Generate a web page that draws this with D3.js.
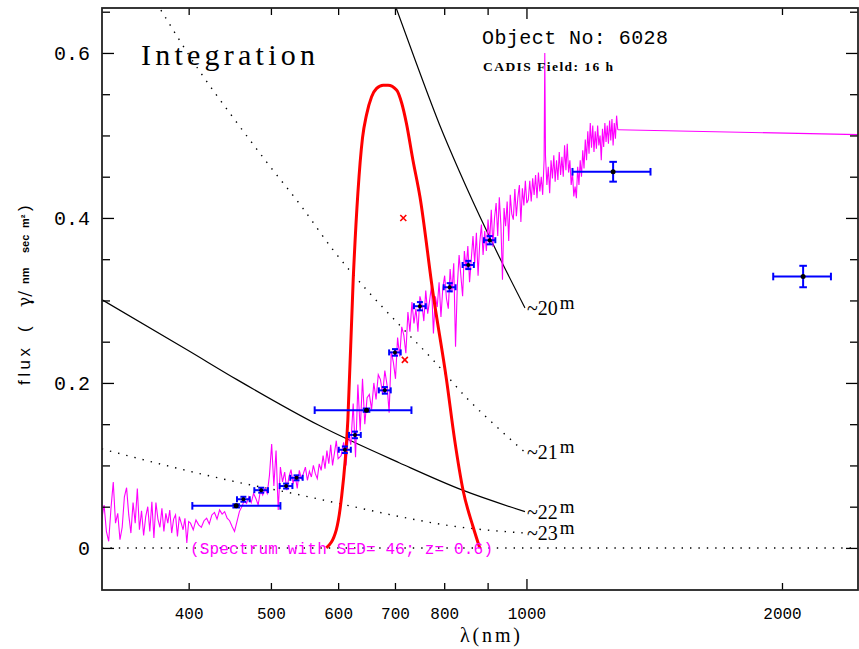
<!DOCTYPE html>
<html>
<head>
<meta charset="utf-8">
<script src="https://cdn.jsdelivr.net/npm/d3@7"></script>
<style>
  body { margin: 0; background: #fff; }
  svg { display: block; }
</style>
</head>
<body>
<div id="chart"></div>
<script>
// Axis ticks
const xTicks = [400, 500, 600, 700, 800, 900, 1000, 2000];
const xTickLabels = ['400', '500', '600', '700', '800', '', '1000', '2000'];
const yMajor = [0, 0.2, 0.4, 0.6];
const yTickLabels = ['0', '0.2', '0.4', '0.6'];
const yMinor = [0.05, 0.1, 0.15, 0.25, 0.3, 0.35, 0.45, 0.5, 0.55, 0.65];

// Spectrum (wavelength grid start/step + flux)
const blueStart = 316, blueStep = 2;
const blueFlux = [0.035,0.052,0.020,0.008,0.048,0.080,0.030,0.042,0.010,0.025,0.062,0.073,0.040,0.018,0.055,
  0.030,0.072,0.022,0.045,0.015,0.038,0.050,0.020,0.056,0.012,0.055,0.035,0.025,0.048,0.020,0.042,0.030,
  0.046,0.018,0.035,0.040,0.014,0.038,0.030,0.022,0.036,0.006,0.032];
const greenStart = 402, greenStep = 3;
const greenFlux = [0.030,0.022,0.034,0.028,0.025,0.033,0.036,0.029,0.040,0.043,0.035,0.046,0.041,0.044,0.036,
  0.033,0.026,0.020,0.032,0.044,0.050,0.057,0.054,0.062,0.055,0.066,0.060,0.052,0.070,0.064,0.072,0.066,
  0.088,0.126,0.075,0.118,0.046,0.098,0.080,0.092,0.070,0.086,0.095,0.078,0.088,0.072,0.094,0.084,0.090,
  0.098,0.082,0.093,0.086,0.100,0.090,0.084,0.102,0.094,0.112,0.096,0.118,0.102,0.125,0.100,0.115,0.130,0.108];
const redStart = 605, redStep = 4;
const redFlux = [0.112,0.128,0.100,0.138,0.125,0.175,0.110,0.198,0.142,0.205,
  0.150,0.182,0.186,0.168,0.200,0.180,0.210,0.204,0.186,0.215,
  0.198,0.164,0.238,0.225,0.205,0.255,0.232,0.268,0.258,0.236,
  0.286,0.262,0.298,0.272,0.290,0.262,0.305,0.296,0.275,0.312,
  0.284,0.300,0.318,0.260,0.305,0.292,0.322,0.280,0.315,0.330,
  0.302,0.290,0.338,0.310,0.345,0.244,0.318,0.355,0.330,0.305,
  0.360,0.338,0.366,0.322,0.350,0.378,0.345,0.382,0.330,0.370,
  0.392,0.355,0.384,0.360,0.398,0.372,0.410,0.365,0.400,0.418,
  0.378,0.425,0.392,0.325,0.412,0.390,0.420,0.372,0.428,0.405,
  0.398,0.435,0.402,0.425,0.440,0.395,0.436,0.415,0.445,0.418];
const nirSpec = [[1005,0.422],[1009,0.445],[1013,0.420],[1017,0.448],[1021,0.428],[1025,0.452],[1029,0.424],
  [1033,0.455],[1037,0.432],[1041,0.450],[1045,0.428],[1049,0.470],[1051,0.600],[1053,0.475],[1057,0.440],
  [1061,0.462],[1065,0.430],[1069,0.470],[1073,0.448],[1077,0.476],[1081,0.444],[1085,0.470],[1089,0.446],
  [1093,0.480],[1097,0.452],[1101,0.474],[1105,0.450],[1109,0.488],[1113,0.458],[1117,0.490],[1121,0.455],
  [1125,0.470],[1129,0.440],[1133,0.455],[1137,0.426],[1141,0.438],[1145,0.424],[1149,0.462],[1153,0.440],
  [1157,0.470],[1161,0.450],[1165,0.482],[1169,0.460],[1173,0.495],[1177,0.470],[1181,0.505],[1185,0.478],
  [1189,0.515],[1193,0.485],[1197,0.512],[1201,0.480],[1205,0.505],[1209,0.484],[1213,0.512],[1217,0.488],
  [1221,0.500],[1225,0.470],[1229,0.508],[1233,0.486],[1237,0.515],[1241,0.492],[1245,0.512],[1249,0.490],
  [1253,0.518],[1257,0.494],[1261,0.520],[1265,0.488],[1269,0.515],[1273,0.496],[1277,0.524],[1281,0.507]];
const specTail = [[1281,0.507],[2458,0.501]];

// Filter transmission curve (red)
const filterCurve = [[581,0.000],[597,0.022],[605,0.058],[616,0.155],[625,0.325],[633,0.430],[641,0.497],
  [648,0.525],[657,0.547],[666,0.557],[678,0.561],[687,0.561],[703,0.555],[713,0.539],[722,0.515],
  [735,0.470],[749,0.426],[776,0.309],[805,0.204],[823,0.131],[842,0.070],[865,0.026],[881,0.000]];

// Constant magnitude curves
const mag20 = [[702,0.655],[739,0.592],[790,0.513],[834,0.456],[897,0.385],[939,0.343],[996,0.291]];
const mag21 = [[371,0.652],[412,0.578],[451,0.522],[494,0.468],[545,0.412],[591,0.362],[648,0.313],
  [709,0.270],[776,0.228],[850,0.182],[938,0.140],[996,0.116]];
const mag22 = [[316,0.301],[400,0.239],[456,0.204],[571,0.148],[709,0.103],[841,0.070],[996,0.044]];
const mag23 = [[316,0.120],[401,0.093],[460,0.079],[531,0.066],[619,0.051],[709,0.038],[812,0.027],[996,0.018]];
const magLabels = ['20', '21', '22', '23'];

// Medium band photometry
const mbLam = [464, 487, 521, 536, 611, 628, 681, 700, 749, 812, 854, 905];
const mbFlux = [0.059, 0.070, 0.075, 0.085, 0.119, 0.137, 0.191, 0.237, 0.293, 0.316, 0.343, 0.373];
const mbLamErr = [8, 9, 9, 9, 10, 10, 11, 11, 12, 13, 13, 14];
const mbFluxErr = [0.003, 0.003, 0.003, 0.003, 0.004, 0.004, 0.004, 0.004, 0.005, 0.005, 0.005, 0.005];

// Broad band photometry
const bbLam = [455, 648, 1265, 2118];
const bbLo = [404, 563, 1133, 1953];
const bbHi = [513, 732, 1400, 2284];
const bbFlux = [0.051, 0.167, 0.456, 0.329];
const bbErr = [0.002, 0.002, 0.012, 0.013];

// Red crosses
const crossLam = [716, 719];
const crossFlux = [0.400, 0.228];

const width = 859, height = 649;
const x = d3.scaleLog().domain([316.2, 2458]).range([102, 858]);
const y = d3.scaleLinear().domain([-0.051, 0.6545]).range([590, 8]);
const [x0, x1] = x.range();
const [y0, y1] = y.range();

const svg = d3.select('#chart').append('svg')
  .attr('width', width)
  .attr('height', height);

svg.append('defs').append('clipPath').attr('id', 'plot')
  .append('rect')
  .attr('x', x0).attr('y', y1)
  .attr('width', x1 - x0).attr('height', y0 - y1);

const plot = svg.append('g').attr('clip-path', 'url(#plot)');

// zero line
plot.append('line')
  .attr('x1', x0).attr('x2', x1)
  .attr('y1', y(0)).attr('y2', y(0))
  .attr('stroke', '#000').attr('stroke-width', 1.4)
  .attr('stroke-dasharray', '1.4,7');

const line = d3.line().x(d => x(d[0])).y(d => y(d[1]));
const smooth = d3.line().x(d => x(d[0])).y(d => y(d[1])).curve(d3.curveMonotoneX);

// magnitude curves
[mag20, mag21, mag22, mag23].forEach((data, i) => {
  plot.append('path')
    .attr('d', smooth(data))
    .attr('fill', 'none')
    .attr('stroke', '#000')
    .attr('stroke-width', i % 2 ? 1.4 : 1.2)
    .attr('stroke-dasharray', i % 2 ? '1.4,7' : null);
});

// spectrum
const spectrum = [];
blueFlux.forEach((f, i) => spectrum.push([blueStart + i * blueStep, f]));
greenFlux.forEach((f, i) => spectrum.push([greenStart + i * greenStep, f]));
redFlux.forEach((f, i) => spectrum.push([redStart + i * redStep, f]));
nirSpec.forEach(d => spectrum.push(d));

plot.append('path')
  .attr('d', line(spectrum))
  .attr('fill', 'none')
  .attr('stroke', '#ff00ff')
  .attr('stroke-width', 1.1);

plot.append('path')
  .attr('d', line(specTail))
  .attr('fill', 'none')
  .attr('stroke', '#ff00ff')
  .attr('stroke-width', 1.1);

// filter curve
plot.append('path')
  .attr('d', smooth(filterCurve))
  .attr('fill', 'none')
  .attr('stroke', '#ff0000')
  .attr('stroke-width', 3);

// error bar helper
function errorBar(g, lam, lo, hi, f, fe, cap, dot) {
  const cx = x(lam), cy = y(f);
  const gb = g.append('g').attr('stroke', '#0000ff').attr('stroke-width', 2);
  gb.append('line').attr('x1', x(lo)).attr('x2', x(hi)).attr('y1', cy).attr('y2', cy);
  gb.append('line').attr('x1', x(lo)).attr('x2', x(lo)).attr('y1', cy - cap).attr('y2', cy + cap);
  gb.append('line').attr('x1', x(hi)).attr('x2', x(hi)).attr('y1', cy - cap).attr('y2', cy + cap);
  gb.append('line').attr('x1', cx).attr('x2', cx).attr('y1', y(f - fe)).attr('y2', y(f + fe));
  gb.append('line').attr('x1', cx - cap).attr('x2', cx + cap).attr('y1', y(f - fe)).attr('y2', y(f - fe));
  gb.append('line').attr('x1', cx - cap).attr('x2', cx + cap).attr('y1', y(f + fe)).attr('y2', y(f + fe));
  g.append('circle').attr('cx', cx).attr('cy', cy).attr('r', dot).attr('fill', '#000');
}

const marks = svg.append('g');
mbLam.forEach((lam, i) => {
  errorBar(marks, lam, lam - mbLamErr[i], lam + mbLamErr[i], mbFlux[i], mbFluxErr[i], 3, 2);
});
bbLam.forEach((lam, i) => {
  errorBar(marks, lam, bbLo[i], bbHi[i], bbFlux[i], bbErr[i], 3.8, 2.5);
});

// red crosses
crossLam.forEach((lam, i) => {
  const cx = x(lam), cy = y(crossFlux[i]), s = 3;
  marks.append('path')
    .attr('d', `M${cx - s},${cy - s}L${cx + s},${cy + s}M${cx - s},${cy + s}L${cx + s},${cy - s}`)
    .attr('stroke', '#ff0000').attr('stroke-width', 1.6);
});

// axes
function styleAxis(g) {
  g.select('.domain').remove();
  g.selectAll('.tick line').attr('stroke', '#000').attr('stroke-width', 1.3);
  g.attr('font-family', null).attr('font-size', null);
}

const gBottom = svg.append('g')
  .attr('transform', `translate(0,${y0})`)
  .call(d3.axisBottom(x).tickValues(xTicks).tickSize(-7).tickPadding(18)
    .tickFormat((d, i) => xTickLabels[i]));
styleAxis(gBottom);
gBottom.selectAll('.tick line').filter(d => d === 1000).attr('y2', -11);
gBottom.selectAll('text')
  .attr('font-family', 'Liberation Mono, DejaVu Sans Mono, monospace')
  .attr('font-size', 16).attr('fill', '#000');

const gTop = svg.append('g')
  .attr('transform', `translate(0,${y1})`)
  .call(d3.axisTop(x).tickValues(xTicks).tickSize(-7).tickFormat(''));
styleAxis(gTop);
gTop.selectAll('.tick line').filter(d => d === 1000).attr('y2', 11);

const gLeft = svg.append('g')
  .attr('transform', `translate(${x0},0)`)
  .call(d3.axisLeft(y).tickValues(yMajor).tickSize(-12).tickPadding(12)
    .tickFormat((d, i) => yTickLabels[i]));
styleAxis(gLeft);
gLeft.selectAll('text')
  .attr('font-family', 'Liberation Mono, DejaVu Sans Mono, monospace')
  .attr('font-size', 20).attr('fill', '#000');
const gLeftMinor = svg.append('g')
  .attr('transform', `translate(${x0},0)`)
  .call(d3.axisLeft(y).tickValues(yMinor).tickSize(-8).tickFormat(''));
styleAxis(gLeftMinor);

const gRight = svg.append('g')
  .attr('transform', `translate(${x1},0)`)
  .call(d3.axisRight(y).tickValues(yMajor).tickSize(-12).tickFormat(''));
styleAxis(gRight);
const gRightMinor = svg.append('g')
  .attr('transform', `translate(${x1},0)`)
  .call(d3.axisRight(y).tickValues(yMinor).tickSize(-8).tickFormat(''));
styleAxis(gRightMinor);

// frame
svg.append('rect')
  .attr('x', x0).attr('y', y1)
  .attr('width', x1 - x0).attr('height', y0 - y1)
  .attr('fill', 'none').attr('stroke', '#222').attr('stroke-width', 1.8);

// magnitude labels
[mag20, mag21, mag22, mag23].forEach((data, i) => {
  const end = data[data.length - 1];
  const lx = x(end[0]) + 2, ly = y(end[1]) + 7;
  const t = svg.append('text')
    .attr('x', lx).attr('y', ly)
    .attr('font-family', 'Liberation Serif, DejaVu Serif, serif')
    .attr('font-size', 20).attr('fill', '#000');
  t.append('tspan').text('~' + magLabels[i]);
  t.append('tspan').attr('dy', -6).attr('dx', 2).attr('font-size', 19).text('m');
});

// texts
svg.append('text')
  .attr('x', 141).attr('y', 65)
  .attr('font-family', 'Liberation Serif, DejaVu Serif, serif')
  .attr('font-size', 30).attr('textLength', 174).attr('lengthAdjust', 'spacing')
  .text('Integration');

svg.append('text')
  .attr('x', 482).attr('y', 44)
  .attr('font-family', 'Liberation Mono, DejaVu Sans Mono, monospace')
  .attr('font-size', 20).attr('textLength', 186).attr('lengthAdjust', 'spacing')
  .text('Object No: 6028');

svg.append('text')
  .attr('x', 483).attr('y', 71)
  .attr('font-family', 'Liberation Serif, DejaVu Serif, serif')
  .attr('font-weight', 'bold')
  .attr('font-size', 13.5).attr('textLength', 130).attr('lengthAdjust', 'spacing')
  .text('CADIS Field: 16 h');

svg.append('text')
  .attr('x', 190).attr('y', 554)
  .attr('font-family', 'Liberation Mono, DejaVu Sans Mono, monospace')
  .attr('font-size', 16).attr('fill', '#ff00ff')
  .attr('textLength', 303).attr('lengthAdjust', 'spacing')
  .text('(Spectrum with SED= 46; z= 0.6)');

svg.append('text')
  .attr('x', 460).attr('y', 642)
  .attr('font-family', 'Liberation Serif, DejaVu Serif, serif')
  .attr('font-size', 20).attr('textLength', 60).attr('lengthAdjust', 'spacing')
  .text('λ(nm)');

// y axis label
const yl = svg.append('g').attr('transform', 'translate(30,385) rotate(-90)')
  .attr('font-family', 'Liberation Sans, DejaVu Sans, sans-serif').attr('fill', '#000');
yl.append('text').attr('x', 0).attr('font-size', 17)
  .attr('textLength', 37).attr('lengthAdjust', 'spacing').text('flux');
yl.append('text').attr('x', 53).attr('font-size', 17).text('(');
yl.append('text').attr('x', 78).attr('font-size', 17).attr('font-family', 'DejaVu Serif, serif').text('γ/');
yl.append('text').attr('x', 101).attr('y', -1).attr('font-size', 11).attr('font-weight', 'bold').text('nm');
yl.append('text').attr('x', 132).attr('y', -1).attr('font-size', 11).attr('font-weight', 'bold').text('sec');
yl.append('text').attr('x', 157).attr('y', -1).attr('font-size', 11).attr('font-weight', 'bold').text('m²');
yl.append('text').attr('x', 174).attr('font-size', 17).text(')');
</script>
</body>
</html>
